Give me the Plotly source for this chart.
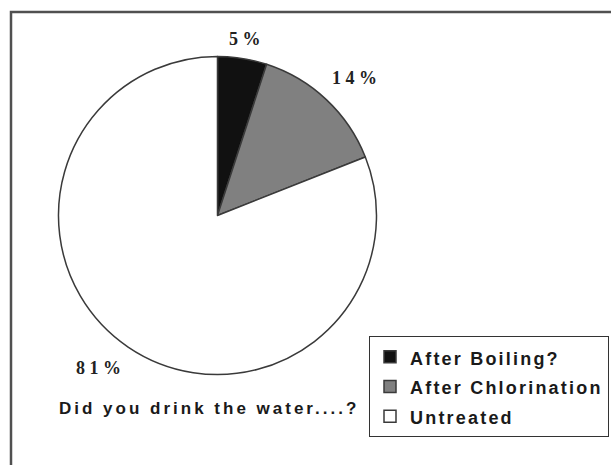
import plotly.graph_objects as go

# Survey answers: how the drinking water was treated (percent of respondents)
categories = ["After Boiling?", "After Chlorination", "Untreated"]
shares = [5, 14, 81]
slice_colors = ["#111111", "#808080", "#ffffff"]

# Where each percentage label sits (paper coordinates)
label_x = [0.401, 0.581, 0.161]
label_y = [0.917, 0.832, 0.209]

title_text = "Did you drink the water....?"

SANS = "Liberation Sans, Arial, sans-serif"
SERIF = "Liberation Serif, Times New Roman, serif"


def spaced(text, px, size=None):
    style = f"letter-spacing:{px}px"
    if size:
        style += f";font-size:{size}px"
    return f'<span style="{style}">{text}</span>'


legend_labels = [spaced(c, 2.2, 18) for c in categories]

fig = go.Figure()
fig.add_trace(go.Pie(
    labels=legend_labels,
    values=shares,
    sort=False,
    direction="clockwise",
    rotation=0,
    marker=dict(colors=slice_colors, line=dict(color="#3a3a3a", width=1.5)),
    textinfo="none",
    hoverinfo="label+percent",
    domain=dict(x=[0.0957, 0.6162], y=[0.1946, 0.8785]),
))

# Percentage labels, written out with the spread-out digits
for v, lx, ly in zip(shares, label_x, label_y):
    fig.add_annotation(
        x=lx, y=ly, xref="paper", yref="paper",
        text=" ".join(list(str(v))) + " %",
        showarrow=False,
        font=dict(family=SERIF, size=18, color="#222222", weight="bold"),
        xanchor="center", yanchor="middle",
    )

fig.add_annotation(
    x=57 / 611, y=1 - 408 / 465, xref="paper", yref="paper",
    text=spaced(title_text, 3.0),
    showarrow=False,
    font=dict(family=SANS, size=17, color="#1a1a1a", weight="bold"),
    xanchor="left", yanchor="middle",
)

# Outer frame around the chart area
fig.add_shape(
    type="rect", xref="paper", yref="paper",
    x0=11 / 611, x1=1.05, y0=-0.05, y1=1 - 12 / 465,
    line=dict(color="#505050", width=2.5),
    fillcolor="rgba(0,0,0,0)",
)

fig.update_layout(
    width=611, height=465,
    margin=dict(l=0, r=0, t=0, b=0),
    paper_bgcolor="white",
    plot_bgcolor="white",
    showlegend=True,
    legend=dict(
        x=369 / 611, y=1 - 336 / 465, xanchor="left", yanchor="top",
        bordercolor="#333333", borderwidth=1,
        bgcolor="white",
        font=dict(family=SANS, size=20.5, color="#1a1a1a", weight="bold"),
        itemwidth=30,
        traceorder="normal",
    ),
)

fig.write_html("out.html")
